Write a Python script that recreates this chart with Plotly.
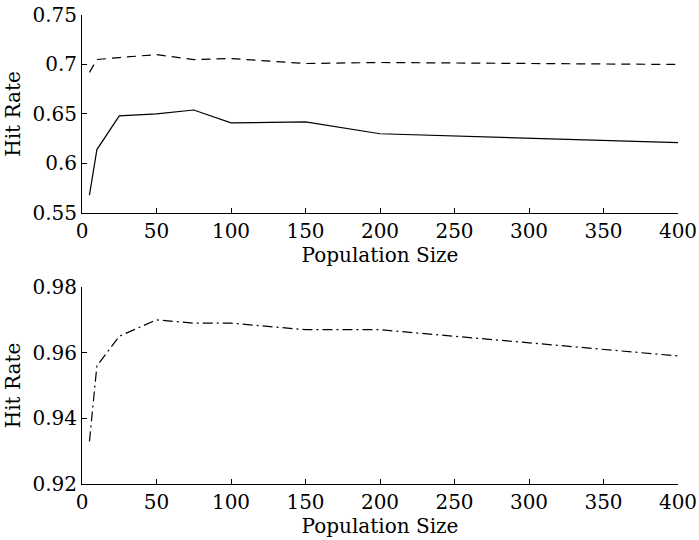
import plotly.graph_objects as go

pop_size = [5, 10, 25, 50, 75, 100, 150, 200, 400]
top_solid = [0.568, 0.614, 0.648, 0.650, 0.654, 0.641, 0.642, 0.630, 0.621]
top_dashed = [0.692, 0.705, 0.707, 0.710, 0.705, 0.706, 0.701, 0.702, 0.700]
bottom_dashdot = [0.933, 0.956, 0.965, 0.970, 0.969, 0.969, 0.967, 0.967, 0.959]

x_ticks = [0, 50, 100, 150, 200, 250, 300, 350, 400]
top_yticks = [0.55, 0.6, 0.65, 0.7, 0.75]
top_yticklabels = ["0.55", "0.6", "0.65", "0.7", "0.75"]
bot_yticks = [0.92, 0.94, 0.96, 0.98]
bot_yticklabels = ["0.92", "0.94", "0.96", "0.98"]

FONT = "DejaVu Serif"
FS = 20

fig = go.Figure()
fig.add_trace(go.Scatter(x=pop_size, y=top_solid, mode="lines",
                         line=dict(color="black", width=1.2), xaxis="x", yaxis="y"))
fig.add_trace(go.Scatter(x=pop_size, y=top_dashed, mode="lines",
                         line=dict(color="black", width=1.2, dash="9px,6px"), xaxis="x", yaxis="y"))
fig.add_trace(go.Scatter(x=pop_size, y=bottom_dashdot, mode="lines",
                         line=dict(color="black", width=1.2, dash="10px,4px,2px,4px"), xaxis="x2", yaxis="y2"))

axis_common = dict(showgrid=False, zeroline=False, showline=True, linecolor="black",
                   linewidth=1, ticks="inside", ticklen=5, tickcolor="black", automargin=False,
                   tickfont=dict(family=FONT, size=FS, color="black"))

fig.update_layout(
    width=699, height=540,
    margin=dict(l=82, r=21, t=15, b=56, autoexpand=False),
    paper_bgcolor="white", plot_bgcolor="white",
    showlegend=False,
    font=dict(family=FONT, size=FS, color="black"),
    xaxis=dict(domain=[0, 1], anchor="y", range=[0, 400], tickvals=x_ticks,
               title=dict(text="Population Size", font=dict(family=FONT, size=FS), standoff=2),
               **axis_common),
    yaxis=dict(domain=[0.578, 1.0], anchor="x", range=[0.55, 0.75],
               tickvals=top_yticks, ticktext=top_yticklabels,
               title=dict(text="Hit Rate", font=dict(family=FONT, size=FS), standoff=6),
               **axis_common),
    xaxis2=dict(domain=[0, 1], anchor="y2", range=[0, 400], tickvals=x_ticks,
                title=dict(text="Population Size", font=dict(family=FONT, size=FS), standoff=2),
                **axis_common),
    yaxis2=dict(domain=[0, 0.42], anchor="x2", range=[0.92, 0.98],
                tickvals=bot_yticks, ticktext=bot_yticklabels,
                title=dict(text="Hit Rate", font=dict(family=FONT, size=FS), standoff=6),
                **axis_common),
)

fig.write_html("out.html")
